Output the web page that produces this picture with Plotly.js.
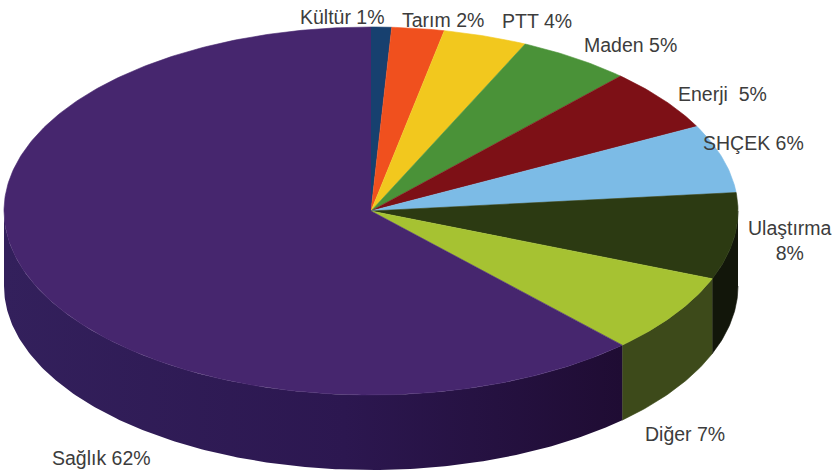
<!DOCTYPE html>
<html><head><meta charset="utf-8">
<script src="https://cdn.plot.ly/plotly-3.0.1.min.js"></script>
<style>html,body{margin:0;padding:0;background:#fff}#c{width:834px;height:473px}</style>
</head><body><div id="c"></div>
<script>
const categories = ["Kültür","Tarım","PTT","Maden","Enerji","SHÇEK","Ulaştırma","Diğer","Sağlık"];
const shares = [0.9,2.3,3.7,5,5.5,6,7.6,7,62];
const labelTexts = ["Kültür 1%","Tarım 2%","PTT 4%","Maden 5%","Enerji  5%","SHÇEK 6%","Ulaştırma<br>8%","Diğer 7%","Sağlık 62%"];
const topColors = ["#17406f","#f0501e","#f2c81e","#4a9238","#7d1016","#7cbbe6","#2c3a12","#a6c232","#46266e"];
const sideColors = ["#0c2038","#78280f","#796315","#25491c","#3e080b","#3e5d73","#12160a","#3d4a1a","#2a1648"];
const labelX = [342,443,537,630,722,753,790,685,101];
const labelY = [17,20,21,45,94,143,240,434,458];

const cx=371, cy=211, rx=367, ry=184, depth=75;
const pt=(a,d=0)=>[cx+rx*Math.sin(a), cy-ry*Math.cos(a)+d];
const arc=(a0,a1,d=0)=>{const n=Math.max(2,Math.ceil((a1-a0)/0.012)),o=[];
  for(let i=0;i<=n;i++)o.push(pt(a0+(a1-a0)*i/n,d));return o;};
const poly=(pts,color,name)=>({type:"scatter",mode:"lines",fill:"toself",fillcolor:color,
  x:pts.map(p=>p[0]),y:pts.map(p=>p[1]),line:{color:color,width:0.6},hoverinfo:"text",text:name,showlegend:false});

const total=shares.reduce((a,b)=>a+b,0);
let acc=0; const spans=shares.map(v=>{const s=[acc/total*2*Math.PI,(acc+v)/total*2*Math.PI];acc+=v;return s;});
const traces=[];
// side walls of the front half
spans.forEach((s,i)=>{
  const a0=Math.max(s[0],Math.PI/2), a1=Math.min(s[1],Math.PI*1.5);
  if(a1<=a0) return;
  const wall=poly(arc(a0,a1).concat(arc(a0,a1,depth).reverse()),sideColors[i],labelTexts[i]);
  if(categories[i]==="Sağlık"){
    delete wall.fillcolor;
    wall.line={width:0};
    wall.fillgradient={type:"horizontal",colorscale:[[0,"#33205c"],[0.55,"#2c1750"],[1,"#1f0c33"]]};
  }
  traces.push(wall);
});
// top faces
spans.forEach((s,i)=>{
  traces.push(poly([[cx,cy]].concat(arc(s[0],s[1])),topColors[i],labelTexts[i]));
});
const annotations=labelTexts.map((t,i)=>({x:labelX[i],y:labelY[i],xref:"x",yref:"y",text:t,showarrow:false,
  xanchor:"center",yanchor:"middle",font:{family:"Liberation Sans, Arial, sans-serif",size:19.5,color:"#3c3c3c"}}));
Plotly.newPlot("c",traces,{
  width:834,height:473,margin:{l:0,r:0,t:0,b:0},paper_bgcolor:"#fff",plot_bgcolor:"#fff",showlegend:false,
  xaxis:{range:[0,834],visible:false,fixedrange:true},
  yaxis:{range:[473,0],visible:false,fixedrange:true},
  annotations
},{displayModeBar:false,staticPlot:true});
</script></body></html>
